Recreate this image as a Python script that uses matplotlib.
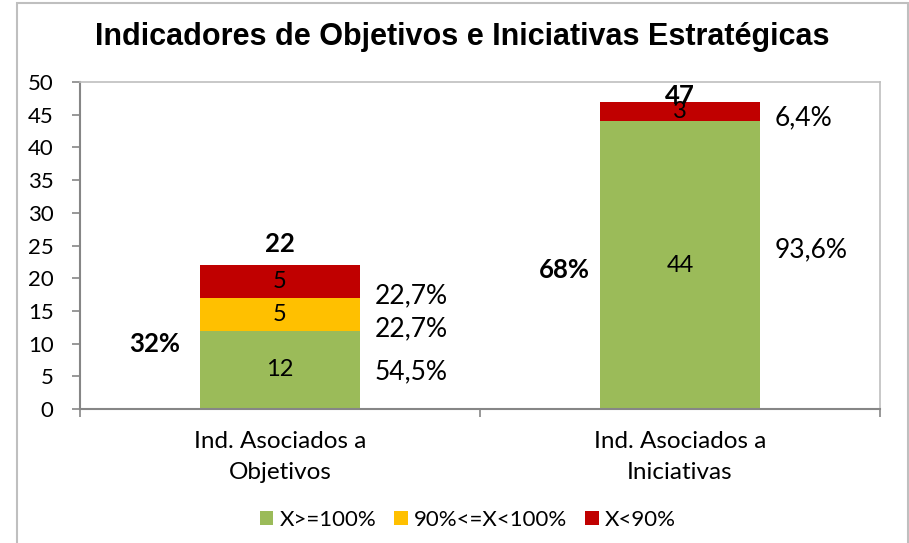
import numpy as np
import matplotlib.pyplot as plt
from matplotlib.patches import Rectangle, Patch
from matplotlib import font_manager

categories = ["Ind. Asociados a\nObjetivos", "Ind. Asociados a\nIniciativas"]
series_names = ["X>=100%", "90%<=X<100%", "X<90%"]
green_vals = [12, 44]
yellow_vals = [5, 0]
red_vals = [5, 3]
colors = ["#9BBB59", "#FFC000", "#C00000"]

names = {f.name for f in font_manager.fontManager.ttflist}
body_font = "Lato" if "Lato" in names else "DejaVu Sans"
plt.rcParams["font.family"] = [body_font, "DejaVu Sans"]

W, H = 909, 543
fig = plt.figure(figsize=(W / 100, H / 100), dpi=100)
ax = fig.add_axes([80 / W, 1 - 409 / H, 800 / W, 327 / H])

x = np.arange(len(categories))
series = [green_vals, yellow_vals, red_vals]
bottom = np.zeros(len(categories))
for vals, col in zip(series, colors):
    ax.bar(x, vals, width=0.4, bottom=bottom, color=col, edgecolor="none")
    # value labels inside segments
    for xi, v, b0 in zip(x, vals, bottom):
        if v > 0:
            ax.text(xi, b0 + v / 2, str(v), ha="center", va="center", fontsize=17, color="black")
    bottom = bottom + np.array(vals)

totals = bottom
grand = totals.sum()

def pct(v):
    return f"{v * 100:.1f}%".replace(".", ",")

# share of segment within each bar, placed to the right of the bar
pct_dy = [[-2, 15], [-15, 0], [-14, -6]]   # px, per series / bar
for si, vals in enumerate(series):
    base = np.sum(series[:si], axis=0) if si else np.zeros(len(categories))
    for bi, v in enumerate(vals):
        if v > 0:
            ax.annotate(pct(v / totals[bi]), (x[bi] + 0.2, base[bi] + v / 2),
                        xytext=(15 * 0.72, pct_dy[si][bi] * 0.72), textcoords="offset points",
                        ha="left", va="center", fontsize=19)

# bar totals on top
tot_dy = [21, 6]
for bi, t in enumerate(totals):
    ax.annotate(f"{t:.0f}", (x[bi], t), xytext=(0, tot_dy[bi] * 0.72), textcoords="offset points",
                ha="center", va="center", fontsize=18.5, fontweight="bold")

# share of grand total, left of each bar
share_dx = [-20, -10]
share_dy = [-7, -15]
for bi, t in enumerate(totals):
    ax.annotate(f"{t / grand * 100:.0f}%", (x[bi] - 0.2, t / 2),
                xytext=(share_dx[bi] * 0.72, share_dy[bi] * 0.72), textcoords="offset points",
                ha="right", va="center", fontsize=18.5, fontweight="bold")

ax.set_xlim(-0.5, 1.5)
ax.set_ylim(0, 50)
ax.set_yticks(np.arange(0, 51, 5))
ax.set_xticks(x)
ax.set_xticklabels(categories, fontsize=17.5, linespacing=1.55)
ax.set_xticks([-0.5, 0.5, 1.5], minor=True)
ax.tick_params(axis="x", which="major", length=0, pad=16)
ax.tick_params(axis="x", which="minor", length=6, color="#868686", width=1.2, direction="out")
ax.tick_params(axis="y", length=6, color="#868686", width=1.2, direction="out", labelsize=16, pad=13)

for s in ["left", "bottom"]:
    ax.spines[s].set_color("#868686")
    ax.spines[s].set_linewidth(1.5)
for s in ["top", "right"]:
    ax.spines[s].set_color("#BFBFBF")
    ax.spines[s].set_linewidth(1.2)

fig.text(462 / W, 1 - 37 / H, "Indicadores de Objetivos e Iniciativas Estratégicas",
         ha="center", va="center", fontsize=22, fontweight="bold",
         family=["Liberation Sans", "DejaVu Sans"])

handles = [Patch(facecolor=c, edgecolor="none") for c in colors]
fig.legend(handles, series_names, loc="center", bbox_to_anchor=(468 / W, 1 - 520 / H), ncol=3,
           frameon=False, fontsize=16, handlelength=0.6, handleheight=0.6,
           handletextpad=0.3, columnspacing=0.8)

fig.patches.append(Rectangle((16.5 / W, -0.05), 891 / W, 1.05 - 3.5 / H, transform=fig.transFigure,
                             fill=False, edgecolor="#BFBFBF", linewidth=1.5))

fig.savefig("out.png", dpi=100)
